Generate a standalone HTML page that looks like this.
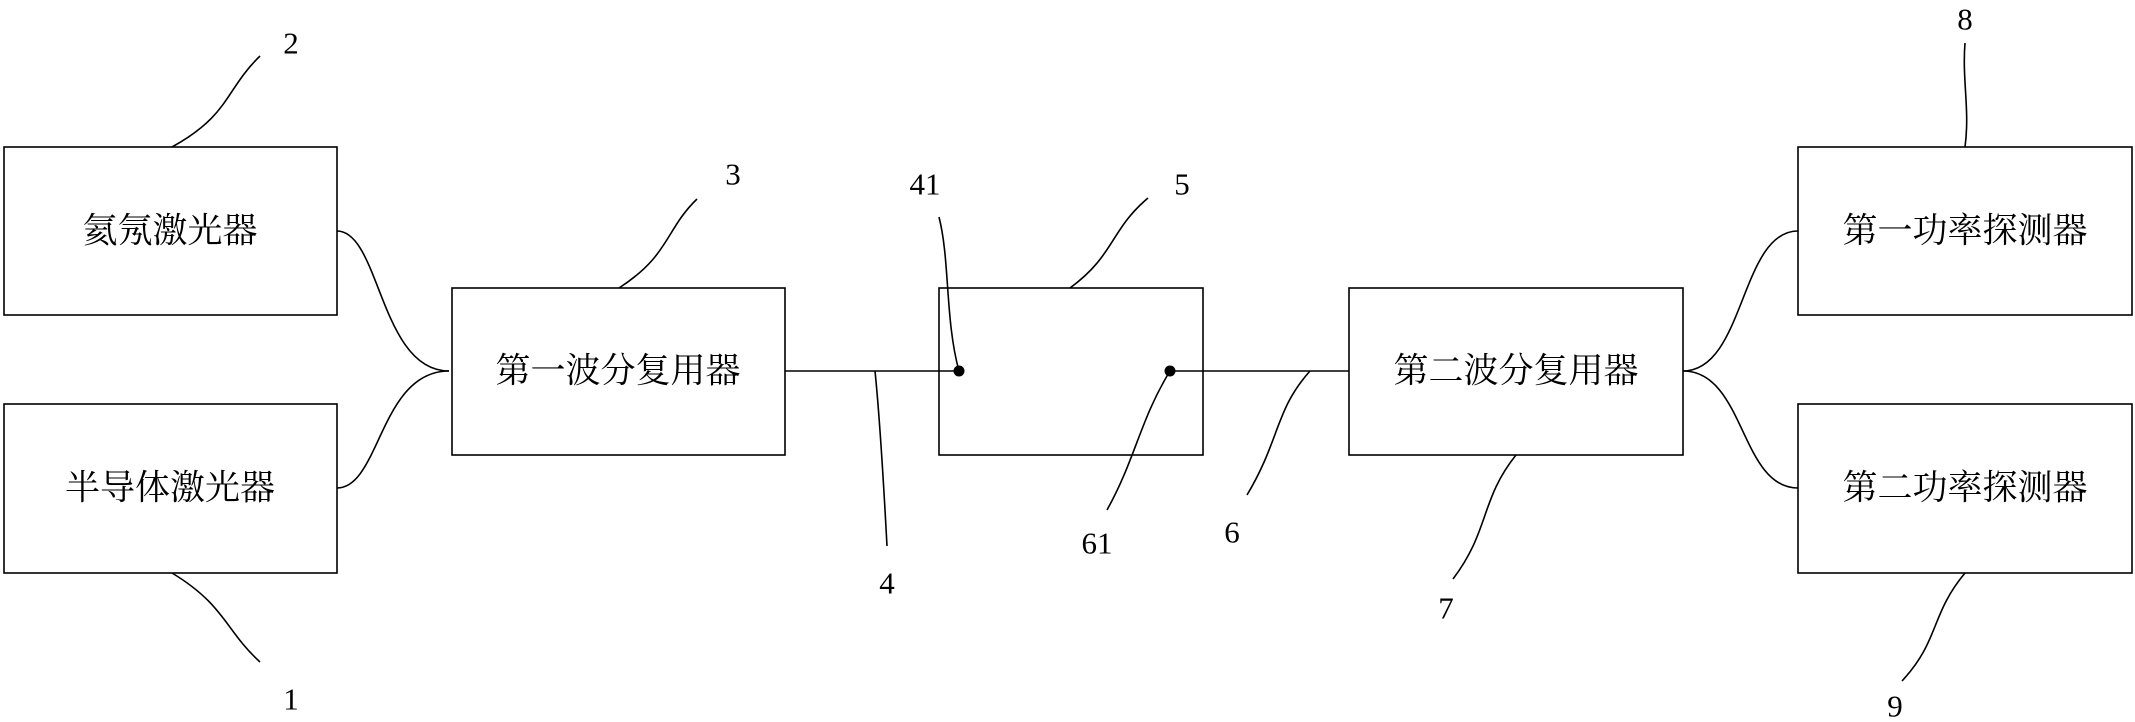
<!DOCTYPE html>
<html><head><meta charset="utf-8"><style>
html,body{margin:0;padding:0;background:#fff;}
svg{display:block;}
text{font-family:"Liberation Serif","Noto Serif CJK SC","Noto Sans CJK SC",serif;fill:#000;}
.c{font-size:35px;}
.n{font-size:31px;}
</style></head><body>
<svg width="2135" height="722" viewBox="0 0 2135 722" xmlns="http://www.w3.org/2000/svg">
<g fill="none" stroke="#000" stroke-width="1.6">
<rect x="4" y="147" width="333" height="168"/>
<rect x="4" y="404" width="333" height="169"/>
<rect x="452" y="288" width="333" height="167"/>
<rect x="939" y="288" width="264" height="167"/>
<rect x="1349" y="288" width="334" height="167"/>
<rect x="1798" y="147" width="334" height="168"/>
<rect x="1798" y="404" width="334" height="169"/>
<path d="M337,231 C380,231 380,371 449,371"/>
<path d="M337,488 C380,488 380,371 449,371"/>
<path d="M1683,371 C1745,371 1740,231 1798,231"/>
<path d="M1683,371 C1745,371 1740,488 1798,488"/>
<line x1="785" y1="371" x2="959" y2="371"/>
<line x1="1170" y1="371" x2="1349" y2="371"/>
<path d="M260,56 C225,90 230,115 172,147"/>
<path d="M172,573 C225,605 225,630 260,662"/>
<path d="M697,199 C665,230 670,255 619,288"/>
<path d="M939,217 C950,260 945,320 959,371"/>
<path d="M875,371 C880,420 884,490 887,546"/>
<path d="M1148,198 C1110,230 1115,255 1070,288"/>
<path d="M1170,371 C1140,420 1135,460 1107,510"/>
<path d="M1310,371 C1275,410 1280,440 1247,495"/>
<path d="M1516,455 C1480,500 1490,530 1453,579"/>
<path d="M1965,43 C1962,80 1970,110 1965,147"/>
<path d="M1965,573 C1930,615 1940,640 1902,681"/>
</g>
<circle cx="959" cy="371" r="5.5" fill="#000"/>
<circle cx="1170" cy="371" r="5.5" fill="#000"/>
<g class="c" text-anchor="middle" dominant-baseline="central">
<text x="170" y="231">氦氖激光器</text>
<text x="170" y="488">半导体激光器</text>
<text x="618" y="371">第一波分复用器</text>
<text x="1516" y="371">第二波分复用器</text>
<text x="1965" y="231">第一功率探测器</text>
<text x="1965" y="488">第二功率探测器</text>
</g>
<g class="n" text-anchor="middle" dominant-baseline="central">
<text x="291" y="43">2</text>
<text x="291" y="699">1</text>
<text x="733" y="174">3</text>
<text x="925" y="184">41</text>
<text x="887" y="583">4</text>
<text x="1182" y="184">5</text>
<text x="1097" y="543">61</text>
<text x="1232" y="532">6</text>
<text x="1446" y="608">7</text>
<text x="1965" y="19">8</text>
<text x="1895" y="706">9</text>
</g>
</svg>
</body></html>
